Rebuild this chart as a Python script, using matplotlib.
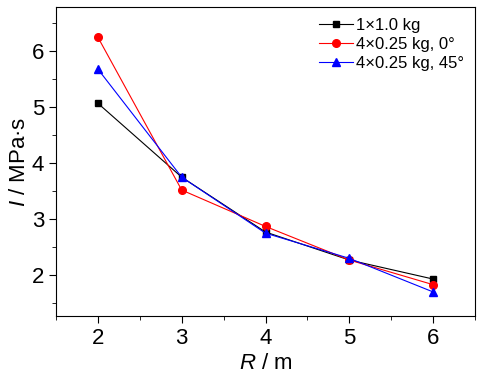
import matplotlib
matplotlib.use("Agg")
import matplotlib.pyplot as plt
import matplotlib.ticker as mticker

plt.rcParams['font.family'] = ['Liberation Sans', 'DejaVu Sans']
plt.rcParams['mathtext.fontset'] = 'custom'
plt.rcParams['mathtext.it'] = 'Liberation Sans:italic'
plt.rcParams['mathtext.rm'] = 'Liberation Sans'

R = [2, 3, 4, 5, 6]
single = [5.07, 3.75, 2.77, 2.27, 1.93]
four_0 = [6.25, 3.52, 2.87, 2.27, 1.83]
four_45 = [5.68, 3.75, 2.75, 2.30, 1.70]
labels = ["1\u00d71.0 kg", "4\u00d70.25 kg, 0\u00b0", "4\u00d70.25 kg, 45\u00b0"]

fig = plt.figure(figsize=(4.85, 3.74), dpi=100)
ax = fig.add_axes([56/485, 1 - 316/374, (475-56)/485, (316-7)/374])

ax.plot(R, single, color="black", marker="s", markersize=5, linewidth=0.8, label=labels[0])
ax.plot(R, four_0, color="red", marker="o", markersize=5.5, linewidth=0.8, label=labels[1])
ax.plot(R, four_45, color="blue", marker="^", markersize=6, linewidth=0.8, label=labels[2])

ax.set_xlim(1.5, 6.5)
ax.set_ylim(1.27, 6.79)
ax.xaxis.set_major_locator(mticker.MultipleLocator(1))
ax.xaxis.set_minor_locator(mticker.MultipleLocator(0.5))
ax.yaxis.set_major_locator(mticker.MultipleLocator(1))
ax.yaxis.set_minor_locator(mticker.MultipleLocator(0.5))
ax.tick_params(which="both", direction="out", labelsize=16)
ax.tick_params(which="major", length=5)
ax.tick_params(which="minor", length=3)

ax.set_xlabel("$R$ / m", fontsize=16, labelpad=3)
ax.set_ylabel("$I$ / MPa\u00b7s", fontsize=16, labelpad=1)

leg = ax.legend(loc="upper right", frameon=False, fontsize=12, handlelength=2.0,
                handletextpad=0.2, labelspacing=0.25, borderaxespad=0.25)

plt.savefig("out.png", dpi=100)
